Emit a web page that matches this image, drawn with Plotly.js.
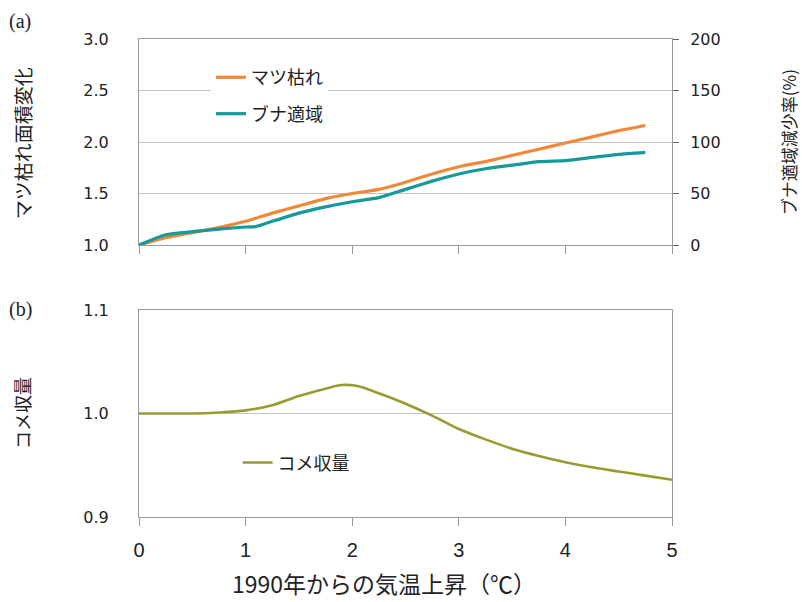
<!DOCTYPE html>
<html>
<head>
<meta charset="utf-8">
<script src="https://cdn.plot.ly/plotly-3.0.1.min.js"></script>
<style>html,body{margin:0;padding:0;background:#fff;}</style>
</head>
<body>
<div id="chart" style="width:802px;height:602px;"></div>
<script>
// Temperature rise since 1990 (°C)
const tempX = [0, 0.25, 0.5, 0.75, 1.0, 1.25, 1.5, 1.75, 2.0, 2.25, 2.5, 2.75, 3.0, 3.25, 3.5, 3.75, 4.0, 4.25, 4.5, 4.75];
// マツ枯れ面積変化 (left axis, ratio)
const pineWilt = [1.00, 1.07, 1.12, 1.17, 1.23, 1.31, 1.38, 1.45, 1.50, 1.54, 1.61, 1.69, 1.76, 1.81, 1.87, 1.93, 1.99, 2.05, 2.11, 2.16];
// ブナ適域減少率 (right axis, %)
const beechX = [0, 0.25, 0.5, 0.75, 1.0, 1.1, 1.25, 1.5, 1.75, 2.0, 2.25, 2.5, 2.75, 3.0, 3.25, 3.5, 3.75, 4.0, 4.25, 4.5, 4.75];
const beechLoss = [0, 10, 13, 15.5, 17.5, 18, 23, 31, 37, 42, 46, 54, 62, 69, 74, 77.5, 81, 82, 85, 88, 90];
// コメ収量 (ratio)
const riceX = [0, 0.25, 0.5, 0.75, 1.0, 1.25, 1.5, 1.75, 1.9, 2.05, 2.25, 2.5, 2.75, 3.0, 3.25, 3.5, 3.75, 4.0, 4.25, 4.5, 4.75, 5.0];
const riceYield = [1.000, 1.000, 1.000, 1.001, 1.003, 1.008, 1.017, 1.024, 1.0275, 1.0265, 1.0195, 1.0095, 0.998, 0.985, 0.975, 0.966, 0.959, 0.953, 0.948, 0.944, 0.940, 0.936];

const names = ['マツ枯れ', 'ブナ適域', 'コメ収量'];
const colors = ['#f0883a', '#16999a', '#9a9a32'];

const jp = '"Noto Sans CJK JP", "Noto Sans", sans-serif';
const numFont = '"DejaVu Sans", sans-serif';
const gridC = '#c4c4c4';
const lineC = '#969ca6';

const traces = [
  {x: tempX, y: pineWilt, name: names[0], type: 'scatter', mode: 'lines',
   line: {color: colors[0], width: 3.2, shape: 'spline', smoothing: 0.5}, xaxis: 'x', yaxis: 'y', legend: 'legend', legendgroup: 'a'},
  {x: beechX, y: beechLoss, name: names[1], type: 'scatter', mode: 'lines',
   line: {color: colors[1], width: 3.2, shape: 'spline', smoothing: 0.5}, xaxis: 'x', yaxis: 'y2', legend: 'legend', legendgroup: 'b'},
  {x: riceX, y: riceYield, name: names[2], type: 'scatter', mode: 'lines',
   line: {color: colors[2], width: 2.6, shape: 'spline', smoothing: 0.8}, xaxis: 'x2', yaxis: 'y3', legend: 'legend2'}
];

const layout = {
  width: 802, height: 602,
  margin: {l: 139, r: 130, t: 39, b: 85},
  paper_bgcolor: '#fff', plot_bgcolor: '#fff',
  font: {family: jp, color: '#222'},
  showlegend: true,
  xaxis: {
    domain: [0, 1], anchor: 'y', range: [0, 5], tick0: 0, dtick: 1,
    showticklabels: false, ticks: 'outside', ticklen: 8, tickcolor: lineC,
    showline: true, linecolor: lineC, mirror: true, showgrid: false, zeroline: false
  },
  yaxis: {
    domain: [0.569, 1], range: [1, 3], tick0: 1, dtick: 0.5, tickformat: '.1f',
    showgrid: true, gridcolor: gridC, zeroline: false,
    showline: true, linecolor: lineC, mirror: true,
    ticks: '', ticklabelstandoff: 26,
    tickfont: {family: numFont, size: 16, color: '#222'}
  },
  yaxis2: {
    overlaying: 'y', side: 'right', anchor: 'x', range: [0, 200], tick0: 0, dtick: 50,
    showgrid: false, zeroline: false, showline: false,
    ticks: 'outside', ticklen: 6, tickcolor: '#666', ticklabelstandoff: 8,
    tickfont: {family: numFont, size: 16, color: '#222'}
  },
  xaxis2: {
    domain: [0, 1], anchor: 'y3', range: [0, 5], tick0: 0, dtick: 1,
    ticks: 'outside', ticklen: 8, tickcolor: lineC, ticklabelstandoff: 7,
    showline: true, linecolor: lineC, mirror: true, showgrid: false, zeroline: false,
    tickfont: {family: '"Liberation Sans", Arial, sans-serif', size: 20, color: '#222'}
  },
  yaxis3: {
    domain: [0, 0.433], anchor: 'x2', range: [0.9, 1.1], tick0: 0.9, dtick: 0.1, tickformat: '.1f',
    showgrid: true, gridcolor: gridC, zeroline: false,
    showline: true, linecolor: lineC, mirror: true,
    ticks: '', ticklabelstandoff: 26,
    tickfont: {family: numFont, size: 16, color: '#222'}
  },
  legend: {
    x: 0.135, y: 0.958, xanchor: 'left', yanchor: 'top',
    bgcolor: '#fff', borderwidth: 0, traceorder: 'grouped', tracegroupgap: 10,
    font: {family: jp, size: 18, color: '#222'}
  },
  legend2: {
    x: 0.185, y: 0.152, xanchor: 'left', yanchor: 'top',
    bgcolor: 'rgba(255,255,255,0)', borderwidth: 0,
    font: {family: jp, size: 18, color: '#222'}
  },
  annotations: [
    {text: '(a)', xref: 'paper', yref: 'paper', x: -0.223, y: 1.037, xanchor: 'center', yanchor: 'middle',
     showarrow: false, font: {family: '"Liberation Serif", serif', size: 20, color: '#222'}},
    {text: '(b)', xref: 'paper', yref: 'paper', x: -0.223, y: 0.435, xanchor: 'center', yanchor: 'middle',
     showarrow: false, font: {family: '"Liberation Serif", serif', size: 20, color: '#222'}},
    {text: 'マツ枯れ面積変化', xref: 'paper', yref: 'paper', x: -0.2195, y: 0.782, textangle: -90,
     xanchor: 'center', yanchor: 'middle', showarrow: false, font: {family: jp, size: 19, color: '#222'}},
    {text: 'コメ収量', xref: 'paper', yref: 'paper', x: -0.2195, y: 0.2176, textangle: -90,
     xanchor: 'center', yanchor: 'middle', showarrow: false, font: {family: jp, size: 18, color: '#222'}},
    {text: 'ブナ適域減少率(%)', xref: 'paper', yref: 'paper', x: 1.218, y: 0.7845, textangle: -90,
     xanchor: 'center', yanchor: 'middle', showarrow: false, font: {family: jp, size: 17, color: '#222'}},
    {text: '1990年からの気温上昇（℃）', xref: 'paper', yref: 'paper', x: 0.46, y: -0.138,
     xanchor: 'center', yanchor: 'middle', showarrow: false, font: {family: jp, size: 23, color: '#222'}}
  ]
};

Plotly.newPlot('chart', traces, layout, {displayModeBar: false, staticPlot: true});
</script>
</body>
</html>
